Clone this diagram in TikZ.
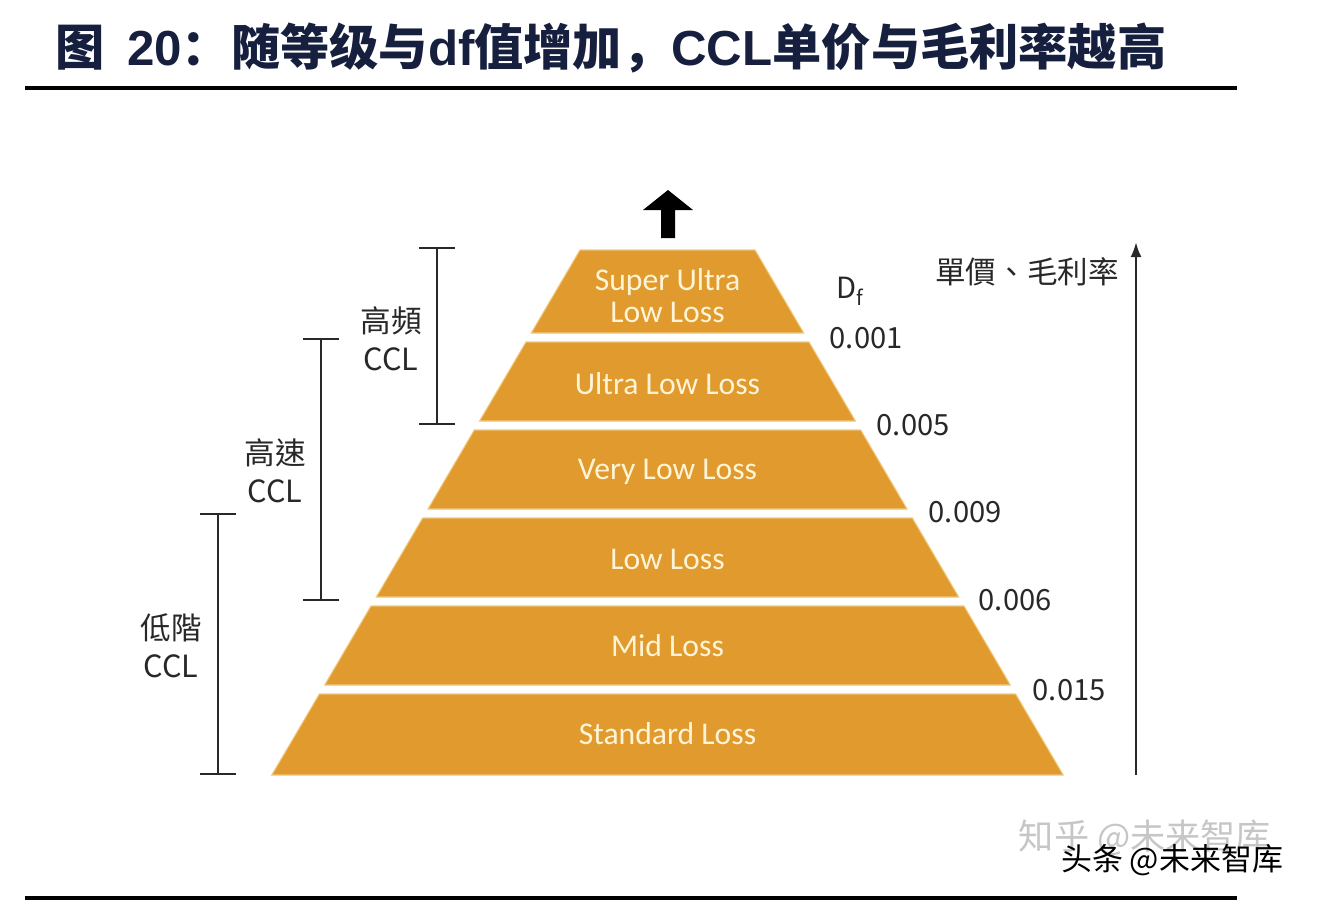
\documentclass[tikz,border=0pt]{standalone}
\usepackage{fontspec}
\setmainfont{Carlito}
\newfontfamily\tcfont{Noto Sans CJK TC}
\newfontfamily\scfont{Noto Sans CJK SC}
\newfontfamily\titlefont{Liberation Sans}
\usetikzlibrary{arrows.meta, positioning}
\definecolor{layerorange}{RGB}{224,154,46}
\definecolor{layeredge}{RGB}{240,200,120}
\definecolor{layertext}{RGB}{255,244,214}
\definecolor{titlenavy}{RGB}{22,32,62}
\definecolor{labelgrey}{RGB}{40,40,40}

\begin{document}
\begin{tikzpicture}[x=0.01cm, y=-0.01cm,
    layer/.style={fill=layerorange, draw=layeredge, line width=0.3pt},
    ltext/.style={text=layertext, align=center, inner sep=0pt, font={\fontsize{9}{9.1}\selectfont}},
    note/.style={text=labelgrey, align=center, inner sep=0pt, font={\tcfont\fontsize{8.7}{10.8}\selectfont}},
    dfval/.style={anchor=west, text=labelgrey, inner sep=0pt, font={\tcfont\fontsize{8.3}{10}\selectfont}},
    bracket/.style={{Bar[width=3.6mm]}-{Bar[width=3.6mm]}, line width=0.7pt, draw=labelgrey}
]
    \useasboundingbox (0,0) rectangle (1318,902);

    % Title
    \node[anchor=west, inner sep=0pt, text=titlenavy, font={\bfseries\fontsize{14}{14}\selectfont}] (title) at (55,48)
        {{\scfont 图}\titlefont\hspace{0.45em}20{\scfont ：随等级与}df{\scfont 值增加，}CCL{\scfont 单价与毛利率越高}};
    \coordinate (rulel) at (25,88);
    \coordinate (ruler) at (1237,88);
    \draw[line width=1pt] (rulel) -- (ruler);

    % Pyramid layers
    \fill[layer] (580,250) -- (755,250) -- (803.7,333) -- (531.3,333) -- cycle;
    \fill[layer] (526,342) -- (809,342) -- (855.4,421) -- (479.6,421) -- cycle;
    \fill[layer] (474.3,430) -- (860.7,430) -- (907,509) -- (428,509) -- cycle;
    \fill[layer] (422.7,518) -- (912.3,518) -- (958.7,597) -- (376.3,597) -- cycle;
    \fill[layer] (371,606) -- (964,606) -- (1010.3,685) -- (324.7,685) -- cycle;
    \fill[layer] (319.4,694) -- (1015.6,694) -- (1063.2,775) -- (271.8,775) -- cycle;

    \node[ltext] (sull) at (667.5,296) {Super Ultra\\Low Loss};
    \node[ltext] (ull) at (667.5,384) {Ultra Low Loss};
    \node[ltext] (vll) at (667.5,472) {Very Low Loss};
    \node[ltext] (ll) at (667.5,559) {Low Loss};
    \node[ltext] (ml) at (667.5,646) {Mid Loss};
    \node[ltext] (sl) at (667.5,734) {Standard Loss};

    % Top arrow
    \fill (661,238) -- (661,210) -- (643,210) -- (668,190) -- (693,210) -- (675,210) -- (675,238) -- cycle;

    % Df values
    \node[dfval] (df) at (836,291) {D\textsubscript{f}};
    \node[dfval] (d1) at (829,338) {0.001};
    \node[dfval] (d2) at (876,425) {0.005};
    \node[dfval] (d3) at (928,512) {0.009};
    \node[dfval] (d4) at (978,600) {0.006};
    \node[dfval] (d5) at (1032,690) {0.015};

    % Price axis
    \node[note] (price) at (1027,272) {單價、毛利率};
    \coordinate (pbot) at (1136,775);
    \coordinate (ptop) at (1136,242);
    \draw[-{Latex[length=1.5mm,width=1.1mm]}, line width=0.7pt, labelgrey] (pbot) -- (ptop);

    % CCL ranges
    \coordinate (hftop) at (437,247);
    \coordinate (hfbot) at (437,425);
    \draw[bracket] (hftop) -- (hfbot);
    \node[note] (hf) at (391,339) {高頻\\CCL};

    \coordinate (hstop) at (321,338);
    \coordinate (hsbot) at (321,601);
    \draw[bracket] (hstop) -- (hsbot);
    \node[note] (hs) at (275,471) {高速\\CCL};

    \coordinate (lctop) at (218,513);
    \coordinate (lcbot) at (218,775);
    \draw[bracket] (lctop) -- (lcbot);
    \node[note] (lc) at (171,646) {低階\\CCL};

    % Watermark
    \node[inner sep=0pt, text=gray!45, font={\scfont\fontsize{10}{10}\selectfont}] (wm1) at (1145,838) {知乎 @未来智库};
    \node[inner sep=0pt, text=black, font={\scfont\fontsize{8.8}{9}\selectfont}] (wm2) at (1172,860) {头条 @未来智库};

    % Bottom rule
    \coordinate (bottoml) at (25,898);
    \coordinate (bottomr) at (1237,898);
    \draw[line width=1.1pt] (bottoml) -- (bottomr);
\end{tikzpicture}
\end{document}
